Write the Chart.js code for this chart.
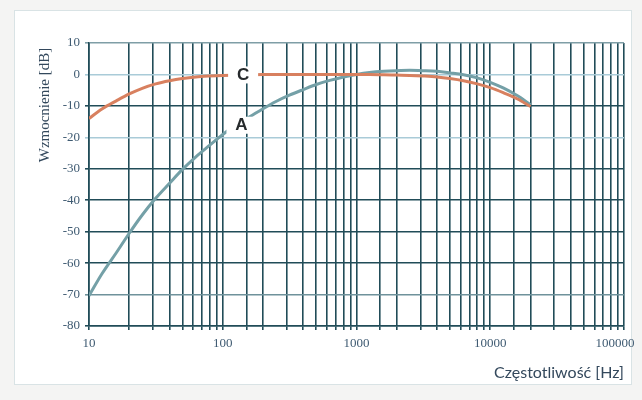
<!DOCTYPE html>
<html>
<head>
<meta charset="utf-8">
<script src="https://cdn.jsdelivr.net/npm/chart.js@4/dist/chart.umd.min.js"></script>
<style>
  html, body { margin: 0; padding: 0; background: #f4f4f3; }
  #wrap { position: relative; width: 642px; height: 400px; overflow: hidden; }
  #frame { position: absolute; left: 14px; top: 10px; width: 618px; height: 375px;
           background: #ffffff; border: 1px solid #d9e3e5; box-sizing: border-box; }
  #c { position: absolute; left: 0; top: 0; }
</style>
</head>
<body>
<div id="wrap">
  <div id="frame"></div>
  <canvas id="c" width="642" height="400"></canvas>
</div>
<script>
// Frequencies (Hz), third-octave points
const freqs = [10, 12.5, 16, 20, 25, 31.5, 40, 50, 63, 80, 100, 125, 160, 200, 250, 315, 400, 500,
               630, 800, 1000, 1250, 1600, 2000, 2500, 3150, 4000, 5000, 6300, 8000, 10000, 12500, 16000, 20000];
// Weighting curve A (dB)
const curveA = [-70.4, -63.4, -56.7, -50.5, -44.7, -39.4, -34.6, -30.2, -26.2, -22.5, -19.1, -16.1, -13.4, -10.9,
                -8.6, -6.6, -4.8, -3.2, -1.9, -0.8, 0, 0.6, 1.0, 1.2, 1.3, 1.2, 1.0, 0.5, -0.1, -1.1, -2.5, -4.3, -6.8, -9.6];
// Weighting curve C (dB)
const curveC = [-14.0, -11.0, -8.4, -6.2, -4.4, -3.0, -2.0, -1.3, -0.8, -0.5, -0.3, -0.2, -0.1, 0, 0, 0, 0, 0,
                0, 0, 0, 0, -0.1, -0.2, -0.3, -0.5, -0.8, -1.3, -2.0, -3.0, -4.2, -5.8, -7.8, -10.2];
// Curve name labels: [name, frequency, level]
const curveLabels = [["C", 142, 0], ["A", 138, -16]];
const yTicks = [10, 0, -10, -20, -30, -40, -50, -60, -70, -80];
const xLabels = [10, 100, 1000, 10000, 100000];
const yTitle = 'Wzmocnienie [dB]';

const toPoints = (ys) => freqs.map((f, i) => ({ x: f, y: ys[i] }));

const gridDark = '#214c58';
const yGridColors = { '10': '#7f9ea6', '0': '#a9cbd8', '-20': '#a9cbd8', '-70': '#6f929b' };
const tickFont = { family: '"Liberation Serif", "DejaVu Serif", serif', size: 13 };

const curveLabelPlugin = {
  id: 'curveLabels',
  afterDatasetsDraw(chart) {
    const { ctx, scales } = chart;
    ctx.save();
    ctx.font = 'bold 17px "Liberation Sans", Arial, sans-serif';
    ctx.textAlign = 'center';
    ctx.textBaseline = 'middle';
    curveLabels.forEach(([name, f, v]) => {
      const x = scales.x.getPixelForValue(f);
      const y = scales.y.getPixelForValue(v);
      ctx.fillStyle = '#ffffff';
      ctx.fillRect(x - 15, y - 8, 30, 17);
      ctx.fillStyle = '#262a2c';
      ctx.fillText(name, x, y + 1);
    });
    ctx.restore();
  }
};

// Vertical axis title, placed near the top of the value axis
const yTitlePlugin = {
  id: 'yTitle',
  afterDraw(chart) {
    const { ctx, chartArea } = chart;
    ctx.save();
    ctx.translate(chartArea.left - 44, chartArea.top + 62);
    ctx.rotate(-Math.PI / 2);
    ctx.font = '15px "Liberation Serif", "DejaVu Serif", serif';
    ctx.fillStyle = '#33485c';
    ctx.textAlign = 'center';
    ctx.textBaseline = 'middle';
    ctx.fillText(yTitle, 0, 0);
    ctx.restore();
  }
};

// Keep the last frequency label inside the canvas
const lastLabelFitPlugin = {
  id: 'lastLabelFit',
  beforeDraw(chart) {
    const scale = chart.scales.x;
    const items = scale.getLabelItems(chart.chartArea);
    const last = String(xLabels[xLabels.length - 1]);
    items.forEach(item => {
      if (item.label === last && !item._shifted) {
        item.options.translation[0] -= 9;
        item._shifted = true;
      }
    });
  }
};

new Chart(document.getElementById('c'), {
  type: 'line',
  data: {
    datasets: [
      { label: 'C', data: toPoints(curveC), borderColor: '#d8805f', borderWidth: 3,
        pointRadius: 0, tension: 0.4, cubicInterpolationMode: 'monotone', fill: false },
      { label: 'A', data: toPoints(curveA), borderColor: '#74a0a7', borderWidth: 3,
        pointRadius: 0, tension: 0.4, cubicInterpolationMode: 'monotone', fill: false }
    ]
  },
  options: {
    responsive: false,
    animation: false,
    layout: { padding: { left: 31, right: 0, top: 43, bottom: 14 } },
    plugins: { legend: { display: false }, tooltip: { enabled: false } },
    scales: {
      x: {
        type: 'logarithmic',
        min: 10, max: 100000,
        afterFit(s) { s.height = 60; s.paddingLeft = 0; s.paddingRight = 18; },
        grid: { color: gridDark, lineWidth: 1.6, tickLength: 4, drawTicks: true },
        border: { color: gridDark, width: 1.6 },
        ticks: {
          autoSkip: false, maxRotation: 0, padding: 6,
          color: '#3f5b72', font: tickFont,
          callback(v) { return xLabels.includes(v) ? String(v) : ''; }
        },
        title: {
          display: true, text: 'Częstotliwość [Hz]', align: 'end',
          color: '#33485c', padding: { top: 0, bottom: 4 },
          font: { family: 'Lato, "Open Sans", sans-serif', size: 16 }
        }
      },
      y: {
        min: -80, max: 10,
        afterFit(s) { s.width = 58; s.paddingTop = 0; s.paddingBottom = 0; },
        afterBuildTicks(s) { s.ticks = yTicks.map(v => ({ value: v })); },
        grid: {
          tickLength: 4,
          lineWidth: 1.6,
          color(ctx) { return yGridColors[String(ctx.tick && ctx.tick.value)] || gridDark; }
        },
        border: { color: gridDark, width: 1.6 },
        ticks: { padding: 5, color: '#3f5b72', font: tickFont }
      }
    }
  },
  plugins: [curveLabelPlugin, yTitlePlugin, lastLabelFitPlugin]
});
</script>
</body>
</html>
